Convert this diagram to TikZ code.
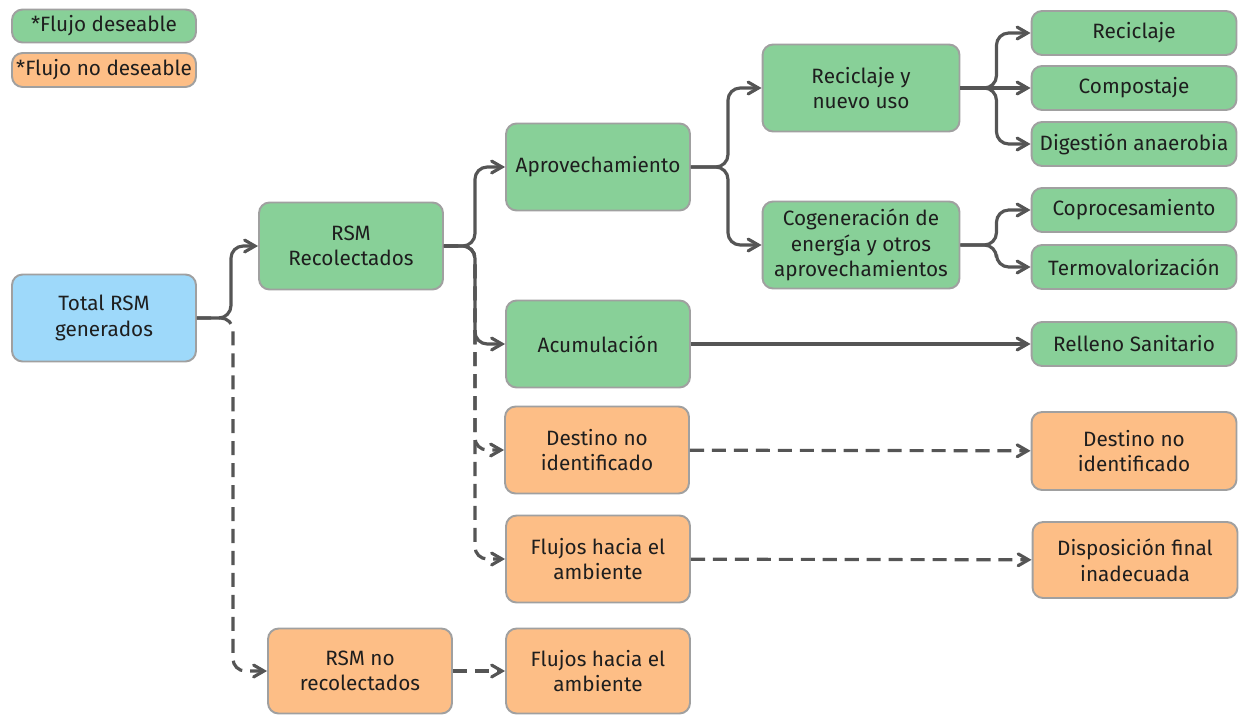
\documentclass[tikz,border=0pt]{standalone}
\usepackage{fontspec}
\setmainfont{Fira Sans}
\usetikzlibrary{arrows, shapes}
\definecolor{verde}{RGB}{136,208,152}
\definecolor{naranja}{RGB}{253,190,134}
\definecolor{celeste}{RGB}{158,217,250}
\definecolor{borde}{RGB}{160,160,160}
\definecolor{linea}{RGB}{85,85,85}
\definecolor{texto}{RGB}{30,30,30}

\begin{document}
\begin{tikzpicture}[x=0.02cm, y=-0.02cm]
	\tikzstyle{every node} = [font = \fontsize{11.8}{14.6}\selectfont, text = texto]
	\tikzstyle{caja} = [draw = borde, line width = 1.1pt, rounded corners = 6pt, align = center, inner sep = 1pt]
	\tikzstyle{grande} = [caja, minimum width = 3.68cm, minimum height = 1.74cm]
	\tikzstyle{media} = [caja, minimum width = 3.94cm, minimum height = 1.74cm]
	\tikzstyle{chica} = [caja, minimum width = 4.1cm, minimum height = 0.88cm]
	\tikzstyle{flujo} = [draw = linea, line width = 1.8pt, rounded corners = 7pt, ->, >=angle 60]
	\tikzstyle{noflujo} = [flujo, dash pattern = on 8pt off 4.5pt]
	\useasboundingbox (0,0) rectangle (1239,714);

	% leyenda
	\node[caja, fill = verde, minimum width = 3.68cm, minimum height = 0.66cm] (ley1) at (104,26) {*Flujo deseable};
	\node[caja, fill = naranja, minimum width = 3.68cm, minimum height = 0.68cm] (ley2) at (104,70) {*Flujo no deseable};

	% nodos
	\node[grande, fill = celeste] (tot) at (104,318) {Total RSM\\generados};
	\node[grande, fill = verde] (rec) at (351,246) {RSM\\Recolectados};
	\node[grande, fill = naranja, minimum height = 1.7cm] (norec) at (360,671) {RSM no\\recolectados};
	\node[grande, fill = verde] (apr) at (598,167) {Aprovechamiento};
	\node[grande, fill = verde] (acu) at (598,344) {Acumulación};
	\node[grande, fill = naranja] (dmed) at (597,450) {Destino no\\identificado};
	\node[grande, fill = naranja] (fmed) at (598,559) {Flujos hacia el\\ambiente};
	\node[grande, fill = naranja, minimum height = 1.7cm] (fbaj) at (598,671) {Flujos hacia el\\ambiente};
	\node[media, fill = verde] (reu) at (861,88) {Reciclaje y\\nuevo uso};
	\node[media, fill = verde] (cog) at (861,245) {Cogeneración de\\energía y otros\\aprovechamientos};
	\node[chica, fill = verde] (recl) at (1134,33) {Reciclaje};
	\node[chica, fill = verde] (comp) at (1134,88) {Compostaje};
	\node[chica, fill = verde] (dig) at (1134,144) {Digestión anaerobia};
	\node[chica, fill = verde] (copr) at (1134,210) {Coprocesamiento};
	\node[chica, fill = verde] (term) at (1134,267) {Termovalorización};
	\node[chica, fill = verde] (rell) at (1134,344) {Relleno Sanitario};
	\node[chica, fill = naranja, minimum height = 1.56cm] (dder) at (1134,451) {Destino no\\identificado};
	\node[chica, fill = naranja, minimum height = 1.52cm] (disp) at (1135,560) {Disposición final\\inadecuada};

	% flujos no deseables
	\path[noflujo] (tot.east) -- ++(36,0) |- (norec.west);
	\path[noflujo] (rec.east) -- ++(31,0) |- (dmed.west);
	\path[noflujo] (rec.east) -- ++(31,0) |- (fmed.west);
	\path[noflujo] (dmed) -- (dder);
	\path[noflujo] (fmed) -- (disp);
	\path[noflujo] (norec) -- (fbaj);

	% flujos deseables
	\path[flujo] (tot.east) -- ++(34,0) |- (rec.west);
	\path[flujo] (rec.east) -- ++(31,0) |- (apr.west);
	\path[flujo] (rec.east) -- ++(31,0) |- (acu.west);
	\path[flujo] (apr.east) -- ++(37,0) |- (reu.west);
	\path[flujo] (apr.east) -- ++(37,0) |- (cog.west);
	\path[flujo] (reu.east) -- ++(36,0) |- (recl.west);
	\path[flujo] (reu) -- (comp);
	\path[flujo] (reu.east) -- ++(36,0) |- (dig.west);
	\path[flujo] (cog.east) -- ++(36,0) |- (copr.west);
	\path[flujo] (cog.east) -- ++(36,0) |- (term.west);
	\path[flujo] (acu) -- (rell);
\end{tikzpicture}
\end{document}
